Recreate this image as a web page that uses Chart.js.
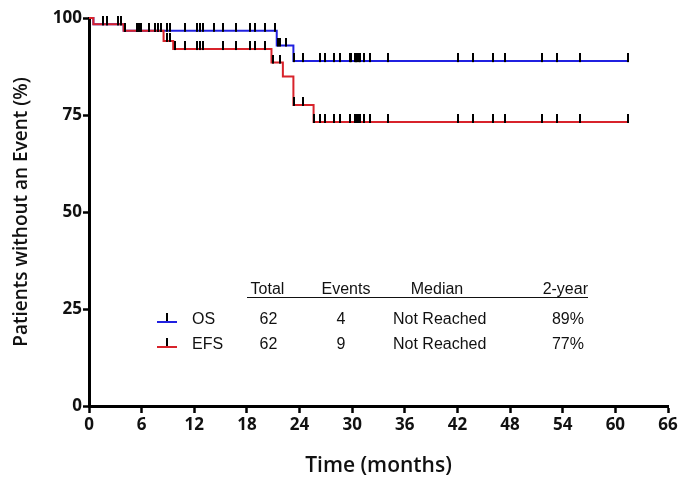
<!DOCTYPE html>
<html>
<head>
<meta charset="utf-8">
<script src="https://cdn.jsdelivr.net/npm/chart.js@4"></script>
<style>
  html, body { margin: 0; padding: 0; background: #fff; }
  #wrap { position: relative; width: 683px; height: 481px; }
  #c { position: absolute; left: 0; top: 0; }
  .t { position: absolute; font-family: "Liberation Sans", Arial, sans-serif; font-size: 16px; color: #111; line-height: 1; white-space: nowrap; transform: translate(-50%, -50%); }
  .tl { transform: translate(0, -50%); }
  .tr { transform: translate(-100%, -50%); }
  #uline { position: absolute; left: 247px; top: 297px; width: 341px; height: 0; border-top: 1.5px solid #111; }
  .sym { position: absolute; height: 2px; width: 20px; }
  .symt { position: absolute; width: 2px; height: 8px; background: #000; }
</style>
</head>
<body>
<div id="wrap">
  <canvas id="c" width="683" height="481"></canvas>
  <div id="table"></div>
</div>
<script>
// ---- data ----
const osEventTimes  = [0, 0.5, 3.95, 21.4, 23.3, 61.4];
const osSurvival    = [100, 98.4, 96.7, 92.9, 88.9, 88.9];
const efsEventTimes = [0, 0.5, 3.95, 8.5, 9.6, 20.8, 22.1, 23.3, 25.6, 61.4];
const efsSurvival   = [100, 98.4, 96.7, 94.1, 92.0, 88.5, 84.9, 77.6, 73.2, 73.2];

const osCensorTimes = [1.6, 2.0, 3.3, 3.7, 4.1, 5.5, 5.7, 5.9, 6.8, 7.5, 7.9, 8.2, 8.85, 9.2,
  10.9, 12.3, 12.7, 13.0, 14.2, 15.3, 16.8, 18.4, 18.9, 20.1, 21.2, 21.6, 21.8, 22.5,
  23.4, 24.4, 26.3, 26.9, 27.9, 28.6, 29.7, 29.9, 30.3, 30.45, 30.6, 30.75, 30.9, 31.4, 32.0, 34.1,
  42.1, 43.8, 46.1, 47.4, 51.6, 53.3, 56.0, 61.4];
const efsCensorTimes = [1.6, 2.0, 3.3, 3.7, 4.1, 5.5, 5.7, 5.9, 6.8, 7.5, 7.9, 8.2, 8.85, 9.2, 9.8,
  10.9, 12.3, 12.7, 13.0, 15.3, 16.8, 18.4, 18.9, 20.1, 21.0, 21.8, 23.4, 24.4, 25.7,
  26.3, 26.9, 27.9, 28.6, 29.7, 30.3, 30.45, 30.6, 30.75, 30.9, 31.4, 32.0, 34.1,
  42.1, 43.8, 46.1, 47.4, 51.6, 53.3, 56.0, 61.4];

const xTicks = [0, 6, 12, 18, 24, 30, 36, 42, 48, 54, 60, 66];
const yTicks = [0, 25, 50, 75, 100];

const seriesNames = ["OS", "EFS"];
const tableHeaders = ["Total", "Events", "Median", "2-year"];
const totals = [62, 62];
const eventCounts = [4, 9];
const medians = ["Not Reached", "Not Reached"];
const twoYear = ["89%", "77%"];

const osColor = "#2020e0";
const efsColor = "#d8232b";

// ---- helpers ----
function survAt(times, surv, t) {
  let s = surv[0];
  for (let i = 0; i < times.length; i++) { if (times[i] <= t) s = surv[i]; }
  return s;
}
function pts(times, surv) { return times.map((t, i) => ({ x: t, y: surv[i] })); }
function censorPts(ct, times, surv) { return ct.map(t => ({ x: t, y: survAt(times, surv, t) })); }

const tickImg = document.createElement('canvas');
tickImg.width = 2; tickImg.height = 16;
(function () { const g = tickImg.getContext('2d'); g.fillStyle = '#000'; g.fillRect(0, 0, 2, 9); })();

const whiteBg = {
  id: 'whiteBg',
  beforeDraw(chart) { const c = chart.ctx; c.save(); c.fillStyle = '#fff'; c.fillRect(0, 0, chart.width, chart.height); c.restore(); }
};

const tickFont = { family: "'Open Sans'", size: 17, weight: '700' };

new Chart(document.getElementById('c'), {
  type: 'line',
  data: {
    datasets: [
      { label: 'censor', type: 'scatter', data: censorPts(osCensorTimes, osEventTimes, osSurvival).concat(censorPts(efsCensorTimes, efsEventTimes, efsSurvival)),
        pointStyle: tickImg, pointRadius: 4, showLine: false, order: 0, clip: false },
      { label: 'EFS', data: pts(efsEventTimes, efsSurvival), borderColor: efsColor, borderWidth: 2, stepped: true,
        pointRadius: 0, fill: false, order: 1, clip: false },
      { label: 'OS', data: pts(osEventTimes, osSurvival), borderColor: osColor, borderWidth: 2, stepped: true,
        pointRadius: 0, fill: false, order: 2, clip: false }
    ]
  },
  options: {
    responsive: false,
    animation: false,
    events: [],
    layout: { padding: { top: 18, right: 15, left: 0, bottom: 0 } },
    plugins: { legend: { display: false }, tooltip: { enabled: false } },
    scales: {
      x: {
        type: 'linear', min: 0, max: 66,
        afterBuildTicks: s => { s.ticks = xTicks.map(v => ({ value: v })); },
        afterFit: s => { s.height = 75; },
        ticks: { color: '#111', font: tickFont, padding: 2, maxRotation: 0 },
        grid: { drawOnChartArea: false, drawTicks: true, tickLength: 7, tickWidth: 2.5, tickColor: '#000' },
        border: { display: true, color: '#000', width: 3 },
        title: { display: true, text: 'Time (months)', color: '#111', font: { family: "'Open Sans'", size: 21, weight: '600' }, padding: { top: 0, bottom: 2 } }
      },
      y: {
        type: 'linear', min: 0, max: 100,
        afterBuildTicks: s => { s.ticks = yTicks.map(v => ({ value: v })); },
        afterFit: s => { s.width = 89; },
        ticks: { color: '#111', font: tickFont, padding: 1 },
        grid: { drawOnChartArea: false, drawTicks: true, tickLength: 6, tickWidth: 2.5, tickColor: '#000' },
        border: { display: true, color: '#000', width: 3 },
        title: { display: true, text: 'Patients without an Event (%)', color: '#111', font: { family: "'Open Sans'", size: 19, weight: '600' }, padding: { top: 10, bottom: 0 } }
      }
    }
  },
  plugins: [whiteBg]
});

// ---- summary table (text overlay) ----
(function () {
  const tbl = document.getElementById('table');
  const add = (txt, x, y, cls) => { const d = document.createElement('div'); d.className = 't' + (cls ? ' ' + cls : ''); d.textContent = txt; d.style.left = x + 'px'; d.style.top = y + 'px'; tbl.appendChild(d); };
  const headerX = [267.5, 346, 437, 588];
  tableHeaders.forEach((h, i) => add(h, headerX[i], 289, i === 3 ? 'tr' : ''));
  const ul = document.createElement('div'); ul.id = 'uline'; tbl.appendChild(ul);
  const rowY = [319, 344];
  const colors = [osColor, efsColor];
  seriesNames.forEach((n, r) => {
    const y = rowY[r];
    const line = document.createElement('div'); line.className = 'sym'; line.style.left = '157px'; line.style.top = (y + 2) + 'px'; line.style.background = colors[r]; tbl.appendChild(line);
    const tk = document.createElement('div'); tk.className = 'symt'; tk.style.left = '166px'; tk.style.top = (y - 6) + 'px'; tbl.appendChild(tk);
    add(n, 192, y, 'tl');
    add(String(totals[r]), 268.5, y);
    add(String(eventCounts[r]), 341, y);
    add(medians[r], 393, y, 'tl');
    add(twoYear[r], 584, y, 'tr');
  });
})();
</script>
</body>
</html>
